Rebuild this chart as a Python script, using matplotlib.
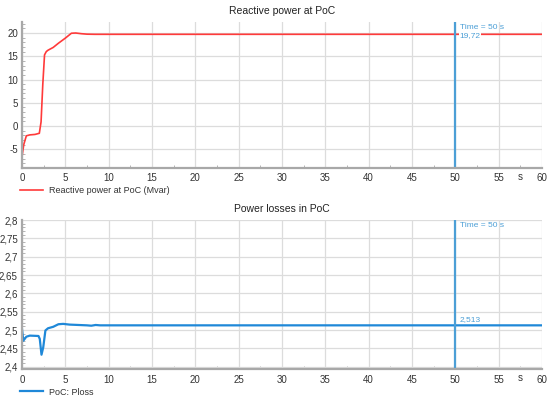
import matplotlib
matplotlib.use('Agg')
import matplotlib.pyplot as plt
import matplotlib.ticker as ticker
import matplotlib.transforms as mtransforms

plt.rcParams['font.family'] = ['Liberation Sans', 'DejaVu Sans']

# reactive power at PoC (Mvar)
t_q = [0, 0.2, 0.5, 0.9, 1.5, 2.0, 2.2, 2.4, 2.6, 2.8, 3.0, 3.6, 4.2, 5.0, 5.7, 6.2,
       6.85, 7.5, 8.4, 60]
q = [-6.6, -4.0, -2.1, -1.9, -1.8, -1.55, 0.9, 9.0, 15.3, 16.0, 16.3, 16.9, 17.8,
     18.9, 19.95, 20.0, 19.85, 19.75, 19.72, 19.72]

# power losses in PoC
t_p = [0, 0.15, 0.5, 0.9, 1.9, 2.05, 2.25, 2.45, 2.7, 3.0, 3.6, 4.2, 4.75, 5.5, 6.5,
       7.5, 8.0, 8.5, 9.0, 60]
p = [2.503, 2.471, 2.482, 2.485, 2.484, 2.476, 2.433, 2.453, 2.499, 2.505, 2.509,
     2.516, 2.517, 2.515, 2.514, 2.513, 2.512, 2.514, 2.513, 2.513]

t_cursor = 50
titles = ['Reactive power at PoC', 'Power losses in PoC']
labels = ['Reactive power at PoC (Mvar)', 'PoC: Ploss']

RED = '#ff3a3a'
BLUE = '#1f88d8'
CURSOR = '#4c9fd6'
GRID = '#dcdcdc'
SPINE = '#a8a8a8'


def comma(v, pos):
    return ('%g' % round(v, 4)).replace('.', ',')


def setup(ax, ylim, ymajor, yminor):
    """Style an axis like the simulation viewer."""
    ax.set_xlim(0, 60)
    ax.set_ylim(*ylim)
    ax.xaxis.set_major_locator(ticker.MultipleLocator(5))
    ax.xaxis.set_minor_locator(ticker.MultipleLocator(2.5))
    ax.yaxis.set_major_locator(ticker.MultipleLocator(ymajor))
    ax.yaxis.set_minor_locator(ticker.MultipleLocator(yminor))
    ax.yaxis.set_major_formatter(ticker.FuncFormatter(comma))
    ax.grid(True, which='major', color=GRID, lw=0.9)
    ax.set_axisbelow(True)
    for s in ['top', 'right']:
        ax.spines[s].set_visible(False)
    for s in ['left', 'bottom']:
        ax.spines[s].set_color(SPINE)
        ax.spines[s].set_linewidth(1.6)
    ax.tick_params(which='major', length=0, labelsize=7, colors='#333333', pad=4)
    ax.tick_params(axis='y', which='major', pad=3)
    ax.tick_params(which='minor', direction='in', length=2.5, color=SPINE, width=0.6)
    ax.text(57.5, -0.03, 's', transform=mtransforms.blended_transform_factory(
        ax.transData, ax.transAxes), ha='center', va='top', fontsize=7, color='#333333')


fig = plt.figure(figsize=(5.5, 3.97), dpi=100)
fig.set_facecolor('white')
ax1 = fig.add_axes([0.04, 0.577, 0.9455, 0.368])
ax2 = fig.add_axes([0.04, 0.0705, 0.9455, 0.3753])

setup(ax1, (-9.0, 22.4), 5, 1)
setup(ax2, (2.394, 2.8), 0.05, 0.01)

ax1.plot(t_q, q, color=RED, lw=1.2, label=labels[0])
ax2.plot(t_p, p, color=BLUE, lw=1.6, label=labels[1])

for ax, t, y in [(ax1, t_q, q), (ax2, t_p, p)]:
    ax.axvline(t_cursor, color=CURSOR, lw=1.6)
    ax.annotate('Time = %d s' % t_cursor, xy=(t_cursor, 1),
                xycoords=('data', 'axes fraction'), xytext=(3, -1.5),
                textcoords='offset points', ha='left', va='top', fontsize=6, color=CURSOR)

ax1.annotate(comma(q[-1], None), xy=(t_cursor, q[-1]), xytext=(3, -1),
             textcoords='offset points', ha='left', va='center', fontsize=6, color=CURSOR,
             bbox=dict(facecolor='white', edgecolor='none', pad=0.6))
ax2.annotate(comma(p[-1], None), xy=(t_cursor, p[-1]), xytext=(3, 1.5),
             textcoords='offset points', ha='left', va='bottom', fontsize=6, color=CURSOR)

for ax, title in [(ax1, titles[0]), (ax2, titles[1])]:
    ax.set_title(title, fontsize=7.5, color='#222222', pad=6)
    ax.legend(loc='upper left', bbox_to_anchor=(-0.02, -0.07), frameon=False,
              fontsize=6.5, handlelength=2.6, handletextpad=0.6, labelcolor='#333333')

fig.savefig('out.png', dpi=100, facecolor='white')
